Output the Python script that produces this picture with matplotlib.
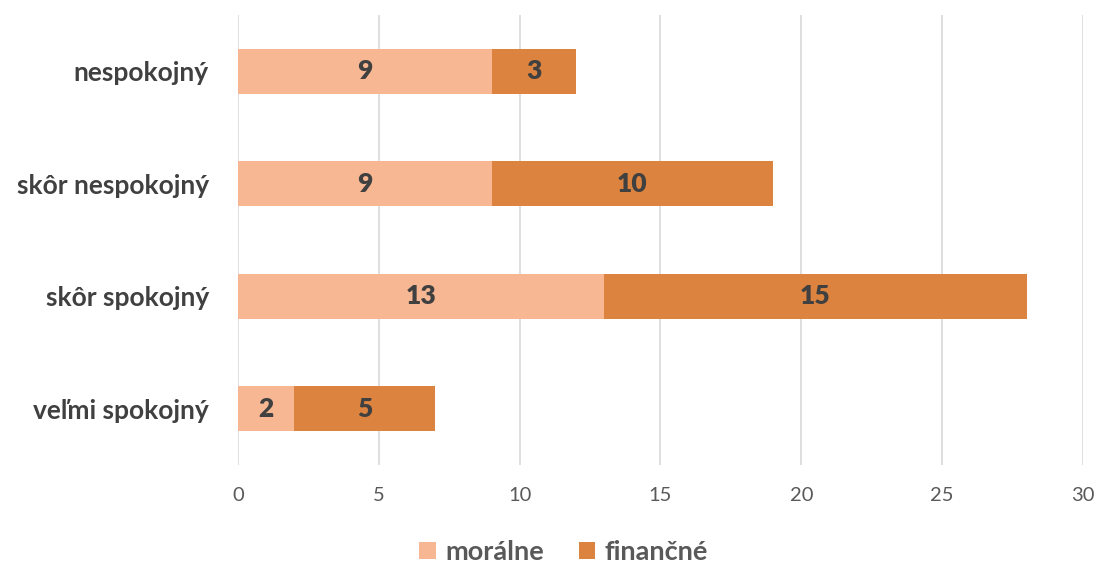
import matplotlib
matplotlib.use("Agg")
from matplotlib import pyplot as plt
import numpy as np

categories = ["veľmi spokojný", "skôr spokojný", "skôr nespokojný", "nespokojný"]
moralne = [2, 13, 9, 9]
financne = [5, 15, 10, 3]

light = "#F8B793"
dark = "#DC843F"

plt.rcParams['font.family'] = ['Lato', 'DejaVu Sans']

fig = plt.figure(figsize=(10.99, 5.63), dpi=100)
ax = fig.add_axes([0.2166, 0.174, 0.7688, 0.7994])

y = np.arange(len(categories))
b1 = ax.barh(y, moralne, height=0.4, color=light, label="morálne")
b2 = ax.barh(y, financne, height=0.4, left=moralne, color=dark, label="finančné")

for bars in (b1, b2):
    ax.bar_label(bars, label_type="center", fontsize=19, fontweight="heavy", color="#404040")

ax.set_xlim(0, 30)
ax.set_ylim(-0.5, 3.5)
ax.set_xticks(range(0, 31, 5))
ax.set_yticks(y)
ax.set_yticklabels(categories, fontsize=19, fontweight="bold", color="#404040")
ax.tick_params(axis="x", labelsize=14.5, colors="#595959", length=0, pad=16)
ax.tick_params(axis="y", length=0, pad=21)
ax.grid(axis="x", color="#D9D9D9", linewidth=1.2)
ax.set_axisbelow(True)
for s in ax.spines.values():
    s.set_visible(False)

leg = fig.legend(loc="lower center", bbox_to_anchor=(0.513, -0.045), ncol=2, frameon=False,
                 prop={"size": 19.5, "weight": "bold"}, handlelength=0.6, handleheight=0.6,
                 columnspacing=1.3, handletextpad=0.35)
for t in leg.get_texts():
    t.set_color("#595959")

fig.savefig("out.png", dpi=100)
